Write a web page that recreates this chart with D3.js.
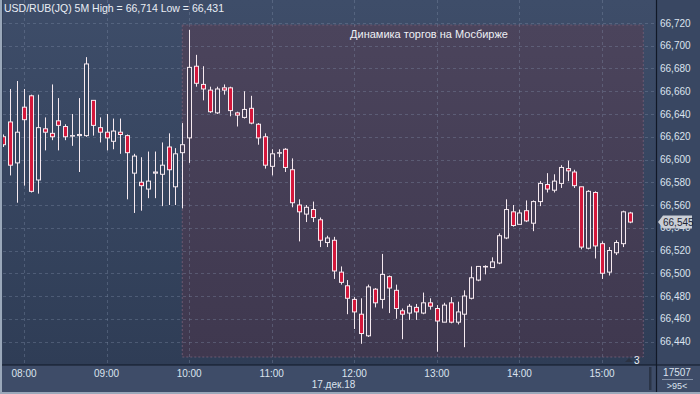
<!DOCTYPE html>
<html lang="ru">
<head>
<meta charset="utf-8">
<title>USD/RUB 5M</title>
<script src="https://cdn.jsdelivr.net/npm/d3@7"></script>
<style>
  body { margin: 0; background: #2c3a52; }
  svg { display: block; font-family: "Liberation Sans", Arial, sans-serif; }
</style>
</head>
<body>
<svg id="chart" width="700" height="394"></svg>
<script>
// 5-minute bars, USD/RUB 17.12.18
var times = ["07:45","07:50","07:55","08:00","08:05","08:10","08:15","08:20","08:25","08:30","08:35","08:40",
  "08:45","08:50","08:55","09:00","09:05","09:10","09:15","09:20","09:25","09:30","09:35","09:40",
  "09:45","09:50","09:55","10:00","10:05","10:10","10:15","10:20","10:25","10:30","10:35","10:40",
  "10:45","10:50","10:55","11:00","11:05","11:10","11:15","11:20","11:25","11:30","11:35","11:40",
  "11:45","11:50","11:55","12:00","12:05","12:10","12:15","12:20","12:25","12:30","12:35","12:40",
  "12:45","12:50","12:55","13:00","13:05","13:10","13:15","13:20","13:25","13:30","13:35","13:40",
  "13:45","13:50","13:55","14:00","14:05","14:10","14:15","14:20","14:25","14:30","14:35","14:40",
  "14:45","14:50","14:55","15:00","15:05","15:10","15:15","15:20"]
var openV = [66.620,66.633,66.597,66.646,66.656,66.582,66.627,66.623,66.634,66.629,66.621,66.621,
  66.621,66.652,66.628,66.624,66.616,66.624,66.621,66.588,66.580,66.574,66.588,66.587,
  66.611,66.576,66.606,66.619,66.682,66.666,66.661,66.641,66.663,66.663,66.641,66.637,
  66.645,66.631,66.620,66.594,66.606,66.609,66.591,66.560,66.552,66.556,66.547,66.527,
  66.529,66.501,66.489,66.477,66.464,66.445,66.486,66.477,66.497,66.485,66.467,66.465,
  66.470,66.465,66.474,66.469,66.457,66.474,66.457,66.464,66.478,66.494,66.506,66.505,
  66.509,66.531,66.554,66.543,66.555,66.544,66.563,66.578,66.573,66.579,66.592,66.589,
  66.576,66.522,66.571,66.526,66.501,66.518,66.526,66.553]
var highV = [66.622,66.662,66.669,66.662,66.657,66.657,66.637,66.666,66.654,66.631,66.640,66.654,
  66.690,66.652,66.637,66.640,66.636,66.636,66.622,66.605,66.602,66.607,66.607,66.615,
  66.623,66.610,66.632,66.714,66.692,66.682,66.664,66.664,66.666,66.664,66.642,66.660,
  66.656,66.632,66.623,66.609,66.609,66.610,66.601,66.565,66.560,66.563,66.549,66.533,
  66.532,66.506,66.494,66.479,66.478,66.490,66.487,66.517,66.498,66.490,66.469,66.473,
  66.473,66.483,66.478,66.472,66.474,66.479,66.475,66.485,66.506,66.506,66.507,66.514,
  66.535,66.565,66.560,66.556,66.564,66.564,66.581,66.588,66.587,66.595,66.599,66.591,
  66.576,66.573,66.572,66.528,66.523,66.529,66.555,66.554]
var lowV = [66.611,66.586,66.562,66.577,66.571,66.570,66.608,66.617,66.608,66.617,66.612,66.589,
  66.620,66.621,66.615,66.608,66.609,66.605,66.565,66.553,66.555,66.566,66.566,66.559,
  66.560,66.560,66.557,66.597,66.664,66.652,66.641,66.640,66.657,66.638,66.629,66.636,
  66.631,66.613,66.592,66.586,66.602,66.589,66.558,66.528,66.545,66.545,66.523,66.523,
  66.495,66.490,66.464,66.451,66.438,66.444,66.470,66.469,66.465,66.460,66.442,66.459,
  66.459,66.464,66.468,66.431,66.457,66.456,66.455,66.435,66.477,66.493,66.499,66.505,
  66.508,66.530,66.541,66.543,66.545,66.537,66.559,66.571,66.571,66.575,66.581,66.575,
  66.521,66.521,66.513,66.495,66.498,66.516,66.523,66.544]
var closeV = [66.613,66.595,66.624,66.635,66.572,66.628,66.624,66.620,66.630,66.620,66.621,66.622,
  66.684,66.630,66.624,66.619,66.625,66.622,66.606,66.603,66.577,66.581,66.589,66.595,
  66.591,66.605,66.613,66.681,66.667,66.662,66.642,66.662,66.661,66.643,66.639,66.644,
  66.632,66.619,66.595,66.605,66.606,66.593,66.562,66.554,66.558,66.549,66.529,66.531,
  66.502,66.492,66.478,66.466,66.447,66.488,66.474,66.499,66.487,66.469,66.464,66.471,
  66.466,66.474,66.471,66.458,66.472,66.457,66.466,66.480,66.496,66.506,66.506,66.510,
  66.533,66.556,66.542,66.553,66.546,66.563,66.579,66.574,66.581,66.593,66.590,66.577,
  66.523,66.572,66.524,66.500,66.520,66.527,66.554,66.545]
var hourLabels = ["08:00","09:00","10:00","11:00","12:00","13:00","14:00","15:00"]
var priceTicks = [66.44,66.46,66.48,66.50,66.52,66.54,66.56,66.58,66.60,66.62,66.64,66.66,66.68,66.70,66.72]
var sessionStart = "09:55", sessionEnd = "15:30"
var title = "USD/RUB(JQ) 5M  High = 66,714 Low = 66,431"
var subtitle = "Динамика торгов на Мосбирже"
var dateLabel = "17.дек.18"
var lastPrice = 66.545

var W = 700, H = 394
var plotL = 3, plotR = 656.5, plotB = 365

var parse = d3.timeParse("%H:%M")
var fmt = function(v) { return d3.format(".3f")(v).replace(".", ",") }

var x = d3.scaleTime()
  .domain([parse("08:00"), parse("15:00")])
  .range([24, 602])
var y = d3.scaleLinear()
  .domain([66.44, 66.72])
  .range([341.5, 23])

var bars = times.map(function(t, i) {
  return { t: parse(t), o: openV[i], h: highV[i], l: lowV[i], c: closeV[i] }
})

var svg = d3.select("#chart")
var defs = svg.append("defs")

var g1 = defs.append("linearGradient").attr("id", "bgBlue").attr("x1", 0).attr("y1", 0).attr("x2", 0).attr("y2", 1)
g1.append("stop").attr("offset", "0%").attr("stop-color", "#3e4d69")
g1.append("stop").attr("offset", "100%").attr("stop-color", "#2f3d56")
var g2 = defs.append("linearGradient").attr("id", "bgSess").attr("x1", 0).attr("y1", 0).attr("x2", 0).attr("y2", 1)
g2.append("stop").attr("offset", "0%").attr("stop-color", "#4b445c")
g2.append("stop").attr("offset", "100%").attr("stop-color", "#3f384f")

defs.append("clipPath").attr("id", "plotClip")
  .append("rect").attr("x", plotL).attr("y", 0).attr("width", plotR - plotL).attr("height", plotB)

// background panels
svg.append("rect").attr("width", W).attr("height", H).attr("fill", "#9aa8ba")
svg.append("rect").attr("x", 2).attr("y", 0).attr("width", W - 2).attr("height", H - 2).attr("fill", "#33415a")
svg.append("rect").attr("x", plotL).attr("y", 0).attr("width", plotR - plotL).attr("height", plotB)
  .attr("fill", "url(#bgBlue)")
svg.append("rect").attr("x", plotR).attr("y", 0).attr("width", W - plotR).attr("height", plotB)
  .attr("fill", "#394762")
svg.append("rect").attr("x", 2).attr("y", plotB).attr("width", W - 2).attr("height", H - 2 - plotB)
  .attr("fill", "#3e4c68")

// session box
svg.append("rect")
  .attr("x", x(parse(sessionStart)))
  .attr("y", 25)
  .attr("width", x(parse(sessionEnd)) - x(parse(sessionStart)))
  .attr("height", 357 - 25)
  .attr("fill", "url(#bgSess)")
  .attr("stroke", "#6d5a72")
  .attr("stroke-dasharray", "2,2")

// grid
var grid = svg.append("g").attr("clip-path", "url(#plotClip)")
grid.selectAll(".hg").data(priceTicks).enter().append("line")
  .attr("x1", plotL).attr("x2", plotR)
  .attr("y1", function(d) { return Math.round(y(d)) + 0.5 })
  .attr("y2", function(d) { return Math.round(y(d)) + 0.5 })
  .attr("stroke", "#8492ad").attr("stroke-opacity", 0.35)
  .attr("stroke-dasharray", "3,3")
grid.selectAll(".vg").data(hourLabels).enter().append("line")
  .attr("x1", function(d) { return Math.round(x(parse(d))) + 0.5 })
  .attr("x2", function(d) { return Math.round(x(parse(d))) + 0.5 })
  .attr("y1", 0).attr("y2", plotB)
  .attr("stroke", "#8492ad").attr("stroke-opacity", 0.35)
  .attr("stroke-dasharray", "3,3")

// candles
var bw = 4
var candles = svg.append("g").attr("clip-path", "url(#plotClip)")
  .selectAll(".candle").data(bars).enter().append("g")
candles.append("line")
  .attr("x1", function(d) { return Math.round(x(d.t)) + 0.5 })
  .attr("x2", function(d) { return Math.round(x(d.t)) + 0.5 })
  .attr("y1", function(d) { return y(d.h) })
  .attr("y2", function(d) { return y(d.l) })
  .attr("stroke", "#f6eaf0")
candles.append("rect")
  .attr("x", function(d) { return Math.round(x(d.t)) - bw / 2 + 0.5 })
  .attr("y", function(d) { return y(Math.max(d.o, d.c)) })
  .attr("width", bw)
  .attr("height", function(d) { return Math.max(0.5, Math.abs(y(d.o) - y(d.c))) })
  .attr("fill", function(d) {
    return d.c < d.o ? "#d4173b" : (d.t >= parse(sessionStart) ? "#463f56" : "#35445e")
  })
  .attr("stroke", "#f6eaf0")

// axis separators
svg.append("line").attr("x1", plotR).attr("x2", plotR).attr("y1", 0).attr("y2", H - 2)
  .attr("stroke", "#111827").attr("stroke-width", 1.2)
svg.append("line").attr("x1", 2).attr("x2", W).attr("y1", plotB).attr("y2", plotB)
  .attr("stroke", "#111827").attr("stroke-width", 1.2)

// right price axis
svg.append("g").selectAll("text").data(priceTicks).enter().append("text")
  .attr("x", 660)
  .attr("y", function(d) { return y(d) + 3.5 })
  .attr("fill", "#dbe3ee")
  .style("font-size", "10px")
  .text(fmt)

// last price tag
var ly = y(lastPrice)
svg.append("path")
  .attr("d", "M658," + ly + " L663," + (ly - 6.5) + " L692," + (ly - 6.5) + " L692," + (ly + 6.5) + " L663," + (ly + 6.5) + " Z")
  .attr("fill", "#c9ced6")
svg.append("text").attr("x", 663).attr("y", ly + 3.5)
  .attr("fill", "#1e2433").style("font-size", "10px")
  .text(fmt(lastPrice))

// time axis
svg.append("g").selectAll("text").data(hourLabels).enter().append("text")
  .attr("x", function(d) { return x(parse(d)) })
  .attr("y", 377)
  .attr("text-anchor", "middle")
  .attr("fill", "#dbe3ee")
  .style("font-size", "10px")
  .text(function(d) { return d })
svg.append("text")
  .attr("x", x(parse("12:00")) + 1)
  .attr("y", 388)
  .attr("text-anchor", "end")
  .attr("fill", "#dbe3ee")
  .style("font-size", "10px")
  .text(dateLabel)

// bottom-right counters
svg.append("rect").attr("x", 649).attr("y", 367).attr("width", 2.5).attr("height", 23).attr("fill", "#2a3447")
svg.append("text").attr("x", 677).attr("y", 376).attr("text-anchor", "middle")
  .attr("fill", "#dbe3ee").style("font-size", "10px").text("17507")
svg.append("line").attr("x1", 662).attr("x2", 693).attr("y1", 379.5).attr("y2", 379.5)
  .attr("stroke", "#8592a8")
svg.append("text").attr("x", 677).attr("y", 389).attr("text-anchor", "middle")
  .attr("fill", "#dbe3ee").style("font-size", "9px").text(">95<")

// marker near bottom right
svg.append("path").attr("d", "M625,362 L629,358 L633,362 Z").attr("fill", "#2b3242")
svg.append("text").attr("x", 634).attr("y", 364).attr("fill", "#eef2f7")
  .style("font-size", "10px").text("3")

// titles
svg.append("text").attr("x", 4).attr("y", 12)
  .attr("fill", "#e9eef5").style("font-size", "10.5px")
  .text(title)
svg.append("text").attr("x", 429).attr("y", 38).attr("text-anchor", "middle")
  .attr("fill", "#eef0f5").style("font-size", "11px")
  .text(subtitle)
</script>
</body>
</html>
